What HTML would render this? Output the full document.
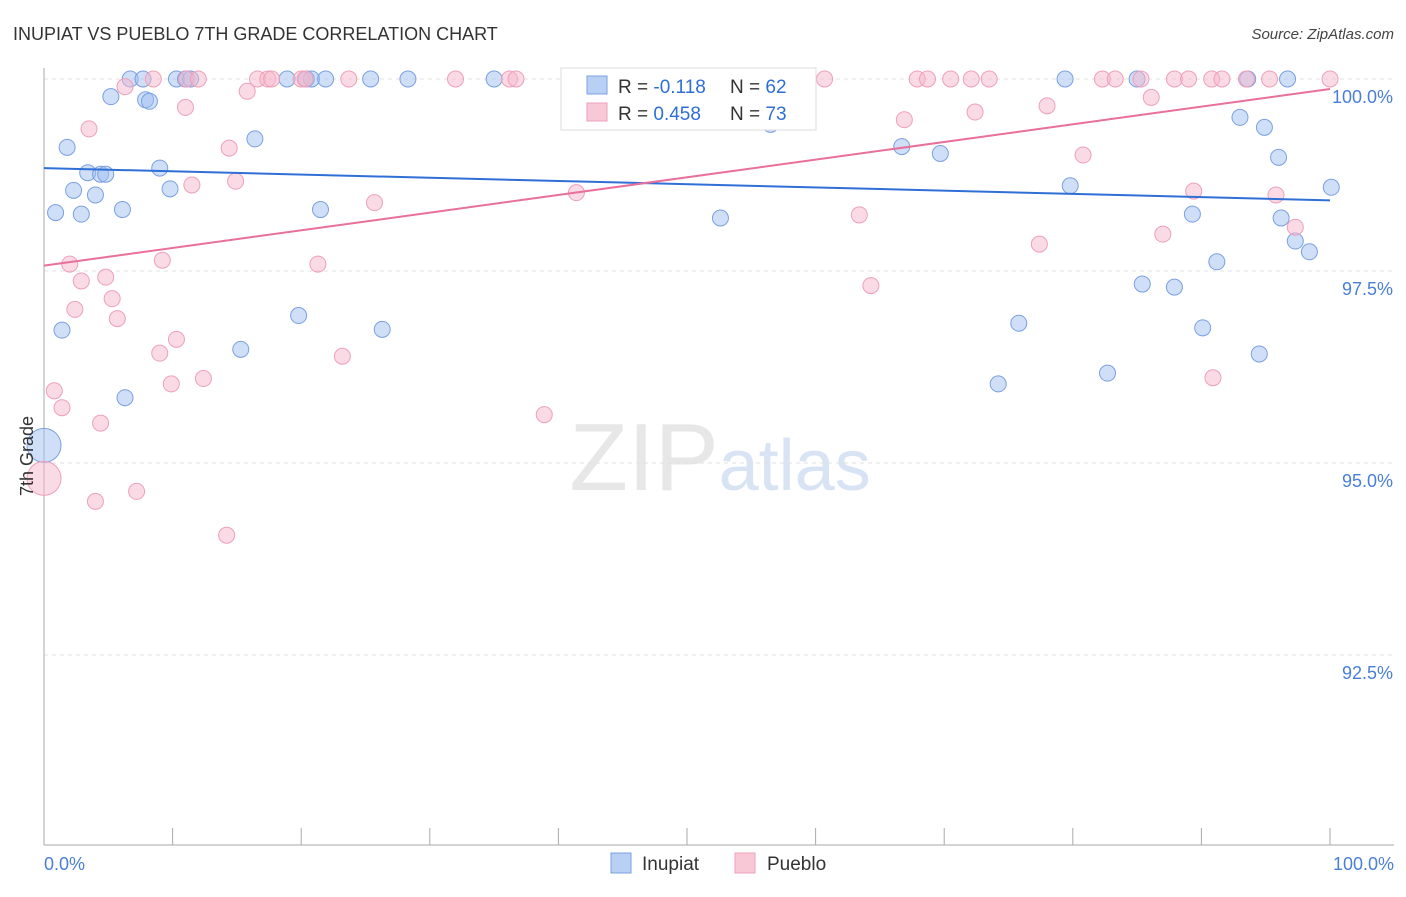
<!DOCTYPE html>
<html><head><meta charset="utf-8"><style>
body{margin:0;background:#fff;font-family:"Liberation Sans",sans-serif}
svg text{font-family:"Liberation Sans",sans-serif}
</style></head><body>
<svg id="chart" width="1406" height="892" xmlns="http://www.w3.org/2000/svg">
<text x="13" y="40" font-size="18" fill="#333">INUPIAT VS PUEBLO 7TH GRADE CORRELATION CHART</text>
<text x="1394" y="39" font-size="15" fill="#444" text-anchor="end" font-style="italic">Source: ZipAtlas.com</text>
<text x="720" y="490" font-size="96" text-anchor="middle" fill="#ddd" font-family="Liberation Serif" opacity="0.7">ZIP<tspan fill="#c8d8f0" font-family="Liberation Sans" font-size="72">atlas</tspan></text>
<g id="grid"></g>
<g id="axes"></g>
<g id="points"></g>
<g id="trends"></g>
<text transform="translate(33,456) rotate(-90)" font-size="18" fill="#333" text-anchor="middle">7th Grade</text>
<text x="44" y="870" font-size="18" fill="#4a7fd6">0.0%</text>
<text x="1394" y="870" font-size="18" fill="#4a7fd6" text-anchor="end">100.0%</text>
<g>
<rect x="561" y="68" width="255" height="62" fill="#fff" stroke="#ddd"/>
<rect x="587" y="76" width="20" height="18" fill="#b9d0f5" stroke="#7aa0e0"/>
<text x="618" y="93" font-size="19" fill="#333">R = <tspan fill="#2f6fd6">-0.118</tspan></text>
<text x="730" y="93" font-size="19" fill="#333">N = <tspan fill="#2f6fd6">62</tspan></text>
<rect x="587" y="103" width="20" height="18" fill="#f9c8d6" stroke="#eea0b8"/>
<text x="618" y="120" font-size="19" fill="#333">R = <tspan fill="#2f6fd6">0.458</tspan></text>
<text x="730" y="120" font-size="19" fill="#333">N = <tspan fill="#2f6fd6">73</tspan></text>
</g>
<g><rect x="611" y="853" width="20" height="20" fill="#b9d0f5" stroke="#7aa0e0"/><text x="642" y="870" font-size="19" fill="#333">Inupiat</text></g>
<g><rect x="735" y="853" width="20" height="20" fill="#f9c8d6" stroke="#eea0b8"/><text x="767" y="870" font-size="19" fill="#333">Pueblo</text></g>
</svg>
<script>
const yTicks=[100,97.5,95,92.5];
const yTickLabels=["100.0%","97.5%","95.0%","92.5%"];
const xTicks=[0,10,20,30,40,50,60,70,80,90,100];
const inupiatX=[6.7,7.7,10.3,11.0,11.4,18.9,20.4,20.8,21.9,25.4,28.3,35.0,47.2,79.4,85.0,93.6,96.7,5.2,7.9,8.2,58.6,56.5,1.8,16.4,9.0,3.4,4.4,4.8,2.3,4.0,9.8,0.9,2.9,6.1,21.5,52.6,66.7,69.7,93.0,94.9,96.0,79.8,100.1,89.3,96.2,97.3,98.4,91.2,26.3,85.4,87.9,1.4,19.8,15.3,75.8,90.1,94.5,6.3,74.2,82.7,0];
const inupiatY=[100,100,100,100,100,100,100,100,100,100,100,100,100,100,100,100,100,99.77,99.73,99.71,99.83,99.41,99.11,99.22,98.84,98.78,98.76,98.76,98.55,98.49,98.57,98.26,98.24,98.3,98.3,98.19,99.12,99.03,99.5,99.37,98.98,98.61,98.59,98.24,98.19,97.89,97.75,97.62,96.74,97.33,97.29,96.73,96.92,96.48,96.82,96.76,96.42,95.85,96.03,96.17,95.23];
const puebloX=[8.5,11.1,12.0,16.6,17.4,17.7,20.0,20.3,23.7,32.0,36.2,36.7,42.2,47.1,60.7,67.9,68.7,70.5,72.1,73.5,82.3,83.3,85.3,87.9,89.0,90.8,91.6,93.5,95.3,100,6.3,15.8,11.0,86.1,78.0,72.4,66.9,3.5,14.4,80.8,11.5,14.9,41.4,25.7,89.4,95.8,63.4,97.3,87.0,77.4,2.0,9.2,21.3,2.9,4.8,64.3,5.3,2.4,5.7,10.3,9.0,23.2,9.9,12.4,90.9,0.8,1.4,4.4,38.9,7.2,4.0,14.2,0];
const puebloY=[100,100,100,100,100,100,100,100,100,100,100,100,100,100,100,100,100,100,100,100,100,100,100,100,100,100,100,100,100,100,99.9,99.84,99.63,99.76,99.65,99.57,99.47,99.35,99.1,99.01,98.62,98.67,98.52,98.39,98.54,98.49,98.23,98.07,97.98,97.85,97.59,97.64,97.59,97.37,97.42,97.31,97.14,97.0,96.88,96.61,96.43,96.39,96.03,96.1,96.11,95.94,95.72,95.52,95.63,94.63,94.5,94.06,94.8];
const inupiatTrend=[98.84,98.42];
const puebloTrend=[97.57,99.87];
const NS="http://www.w3.org/2000/svg";
const X=v=>44+v*12.86, Y=v=>79+(100-v)*76.8;
function mk(t,a,p){const e=document.createElementNS(NS,t);for(const k in a)e.setAttribute(k,a[k]);p.appendChild(e);return e;}
const grid=document.getElementById('grid'),axes=document.getElementById('axes'),pts=document.getElementById('points'),tr=document.getElementById('trends');
yTicks.forEach((t,i)=>{
 const l=mk('line',{x1:44,x2:1394,y1:Y(t),y2:Y(t),stroke:'#e2e2e2','stroke-dasharray':'4,4'},grid);
 
 
 const tx=mk('text',{x:1393,y:Y(t)+24,'font-size':18,fill:'#4a7fd6','text-anchor':'end'},grid);
 tx.textContent=yTickLabels[i];
 
 
});
const ya=mk('line',{x1:44,x2:44,y1:68,y2:845,stroke:'#aaa'},axes);


const xa=mk('line',{x1:44,x2:1394,y1:845,y2:845,stroke:'#aaa'},axes);


xTicks.forEach(t=>{
 const l=mk('line',{x1:X(t),x2:X(t),y1:828,y2:845,stroke:'#aaa'},axes);
 
 
});
function dots(xs,ys,fill,stroke,name){
 xs.forEach((x,i)=>{
  const big=(i===xs.length-1);
  const c=mk('circle',{cx:X(x),cy:Y(ys[i]),r:big?17:8,fill:fill,stroke:stroke,'stroke-width':1},pts);
  
  
 });
}
dots(inupiatX,inupiatY,'rgba(160,192,242,0.5)','#7aa0e0','inupiat-point');
dots(puebloX,puebloY,'rgba(246,184,204,0.5)','#eea0b8','pueblo-point');
const t1=mk('line',{x1:X(0),x2:X(100),y1:Y(inupiatTrend[0]),y2:Y(inupiatTrend[1]),stroke:'#2f6fd6','stroke-width':2},tr);


const t2=mk('line',{x1:X(0),x2:X(100),y1:Y(puebloTrend[0]),y2:Y(puebloTrend[1]),stroke:'#e8709a','stroke-width':2},tr);


</script>
</body></html>
